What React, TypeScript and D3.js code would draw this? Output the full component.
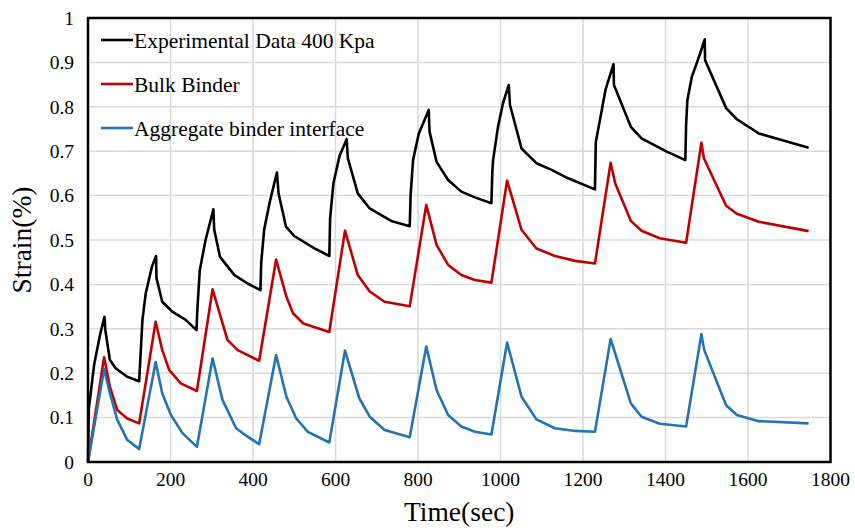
import React from "react";
import * as d3 from "d3";

const xTicks = [0, 200, 400, 600, 800, 1000, 1200, 1400, 1600, 1800];
const yTicks = [0, 0.1, 0.2, 0.3, 0.4, 0.5, 0.6, 0.7, 0.8, 0.9, 1];
const yTickLabels = ["0", "0.1", "0.2", "0.3", "0.4", "0.5", "0.6", "0.7", "0.8", "0.9", "1"];

const seriesNames = ["Experimental Data 400 Kpa", "Bulk Binder", "Aggregate binder interface"];
const seriesColors = ["#000000", "#c00000", "#2373b5"];

const expTime = [0, 2, 15, 30, 40, 42, 53, 67, 95, 124,
  132, 140, 155, 165, 166, 180, 205, 237, 263,
  265, 271, 285, 304, 306, 320, 355, 387, 418,
  420, 427, 440, 458, 462, 480, 500, 549, 585,
  587, 595, 610, 627, 630, 654, 683, 735, 780,
  782, 788, 802, 826, 828, 845, 873, 905, 938, 978,
  980, 982, 994, 1006, 1020, 1023, 1051, 1087, 1124, 1164, 1229,
  1231, 1241, 1255, 1274, 1275, 1316, 1342, 1403, 1448,
  1450, 1453, 1464, 1484, 1495, 1496, 1547, 1573, 1626, 1747];
const expStrain = [0, 0.12, 0.22, 0.29, 0.327, 0.297, 0.23, 0.211, 0.192, 0.182,
  0.32, 0.38, 0.44, 0.464, 0.414, 0.361, 0.338, 0.32, 0.297,
  0.342, 0.432, 0.5, 0.569, 0.523, 0.462, 0.421, 0.402, 0.387,
  0.45, 0.523, 0.583, 0.652, 0.605, 0.53, 0.509, 0.481, 0.464,
  0.55, 0.628, 0.69, 0.727, 0.684, 0.605, 0.571, 0.543, 0.531,
  0.6, 0.68, 0.74, 0.793, 0.744, 0.676, 0.635, 0.609, 0.596, 0.583,
  0.65, 0.68, 0.755, 0.808, 0.849, 0.804, 0.706, 0.673, 0.658, 0.639, 0.614,
  0.72, 0.77, 0.84, 0.896, 0.849, 0.755, 0.729, 0.699, 0.68,
  0.76, 0.815, 0.868, 0.92, 0.952, 0.905, 0.797, 0.772, 0.74, 0.708];

const bulkTime = [0, 39, 53, 71, 95, 124,
  164, 180, 197, 225, 264,
  302, 338, 363, 415,
  456, 481, 497, 522, 585,
  623, 654, 683, 719, 780,
  820, 845, 873, 905, 938, 978,
  1016, 1051, 1087, 1132, 1181, 1229,
  1267, 1278, 1316, 1342, 1386, 1450,
  1487, 1493, 1547, 1573, 1626, 1747];
const bulkStrain = [0, 0.236, 0.17, 0.117, 0.098, 0.087,
  0.316, 0.252, 0.207, 0.177, 0.16,
  0.389, 0.275, 0.252, 0.228,
  0.456, 0.372, 0.335, 0.312, 0.293,
  0.521, 0.421, 0.384, 0.361, 0.351,
  0.579, 0.489, 0.444, 0.421, 0.41, 0.404,
  0.634, 0.523, 0.481, 0.464, 0.453, 0.447,
  0.674, 0.628, 0.543, 0.521, 0.504, 0.494,
  0.719, 0.684, 0.577, 0.559, 0.541, 0.52];

const itzTime = [0, 39, 53, 71, 95, 124,
  164, 180, 201, 229, 264,
  302, 326, 359, 387, 415,
  456, 481, 505, 533, 585,
  623, 658, 683, 719, 780,
  820, 845, 873, 905, 938, 978,
  1016, 1051, 1087, 1132, 1181, 1229,
  1267, 1316, 1342, 1386, 1450,
  1487, 1494, 1547, 1573, 1626, 1747];
const itzStrain = [0, 0.209, 0.155, 0.095, 0.05, 0.029,
  0.225, 0.155, 0.106, 0.065, 0.034,
  0.233, 0.14, 0.076, 0.057, 0.04,
  0.241, 0.147, 0.098, 0.068, 0.044,
  0.251, 0.143, 0.102, 0.072, 0.056,
  0.26, 0.162, 0.106, 0.08, 0.068, 0.062,
  0.269, 0.147, 0.096, 0.076, 0.07, 0.068,
  0.277, 0.132, 0.102, 0.086, 0.08,
  0.288, 0.252, 0.128, 0.106, 0.092, 0.087];

const W = 855;
const H = 531;
const margin = { left: 88, top: 18, right: 855 - 830.5, bottom: 531 - 462 };
const FONT = "'Liberation Serif', 'Times New Roman', serif";

export default function App() {
  const x = d3.scaleLinear().domain([0, 1800]).range([margin.left, W - margin.right]);
  const y = d3.scaleLinear().domain([0, 1]).range([H - margin.bottom, margin.top]);
  const line = d3.line<[number, number]>().x((d) => x(d[0])).y((d) => y(d[1]));
  const series = [
    d3.zip(expTime, expStrain) as [number, number][],
    d3.zip(bulkTime, bulkStrain) as [number, number][],
    d3.zip(itzTime, itzStrain) as [number, number][],
  ];
  const x0 = x(0), x1 = x(1800), y0 = y(0), y1 = y(1);
  return (
    <svg width={W} height={H} style={{ position: "absolute", left: 0, top: 0 }} fontFamily={FONT}>
      <rect x={0} y={0} width={W} height={H} fill="#fff" />
      {xTicks.map((t) => (
        <line key={"gx" + t} x1={x(t)} x2={x(t)} y1={y1} y2={y0} stroke="#d9d9d9" strokeWidth={1.5} />
      ))}
      {yTicks.map((t) => (
        <line key={"gy" + t} x1={x0} x2={x1} y1={y(t)} y2={y(t)} stroke="#d9d9d9" strokeWidth={1.5} />
      ))}
      {series.map((s, i) => (
        <path key={i} d={line(s) || ""} fill="none" stroke={seriesColors[i]} strokeWidth={2.6} strokeLinejoin="round" />
      ))}
      <rect x={x0} y={y1} width={x1 - x0} height={y0 - y1} fill="none" stroke="#000" strokeWidth={2.5} />
      {yTicks.map((t, i) => (
        <text key={"ty" + t} x={74} y={y(t)} dy="0.35em" textAnchor="end" fontSize={19.5}>
          {yTickLabels[i]}
        </text>
      ))}
      {xTicks.map((t) => (
        <text key={"tx" + t} x={x(t)} y={486} textAnchor="middle" fontSize={19.5}>
          {t}
        </text>
      ))}
      <text x={(x0 + x1) / 2} y={521} textAnchor="middle" fontSize={27.5}>Time(sec)</text>
      <text transform={`translate(31, ${(y0 + y1) / 2}) rotate(-90)`} textAnchor="middle" fontSize={27.5}>Strain(%)</text>
      {seriesNames.map((n, i) => (
        <g key={n}>
          <line x1={101} x2={133} y1={40 + i * 44} y2={40 + i * 44} stroke={seriesColors[i]} strokeWidth={2.6} />
          <text x={134} y={40 + i * 44} dy="0.35em" fontSize={21.5}>{n}</text>
        </g>
      ))}
    </svg>
  );
}
